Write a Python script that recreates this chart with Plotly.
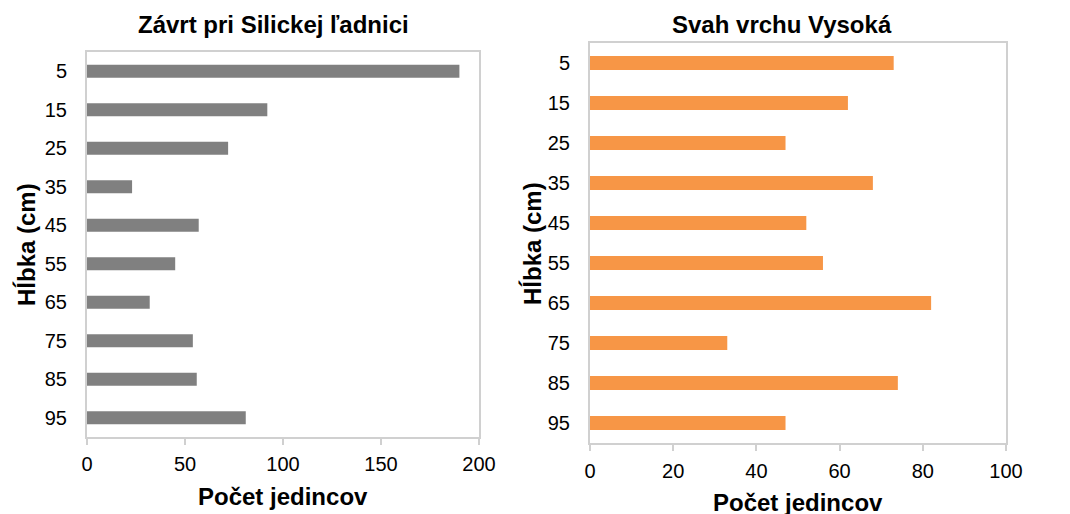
import plotly.graph_objects as go

depths = ["5", "15", "25", "35", "45", "55", "65", "75", "85", "95"]
silicka_values = [190, 92, 72, 23, 57, 45, 32, 54, 56, 81]
vysoka_values = [73, 62, 47, 68, 52, 56, 82, 33, 74, 47]

title_left = "Závrt pri Silickej ľadnici"
title_right = "Svah vrchu Vysoká"
x_title = "Počet jedincov"
y_title = "Hĺbka (cm)"

W, H = 1070, 514
OFF = 8  # page body margin
FONT = "Liberation Sans, Arial, sans-serif"
GRID = "#D0D0D0"

fig = go.Figure()
fig.add_trace(go.Bar(x=silicka_values, y=depths, orientation="h",
                     marker=dict(color="#808080", line=dict(width=0)),
                     width=0.34, xaxis="x", yaxis="y", showlegend=False))
fig.add_trace(go.Bar(x=vysoka_values, y=depths, orientation="h",
                     marker=dict(color="#F79646", line=dict(width=0)),
                     width=0.35, xaxis="x2", yaxis="y2", showlegend=False))

def px_x(p):
    return (p - OFF) / W

def px_y(p):
    return 1 - (p - OFF) / H

axis_common = dict(showgrid=False, zeroline=False, showline=True, linecolor=GRID,
                   linewidth=2, mirror=True, automargin=False,
                   tickfont=dict(family=FONT, size=20, color="#000000"))

fig.update_layout(
    width=W, height=H,
    margin=dict(l=0, r=0, t=0, b=0),
    paper_bgcolor="white", plot_bgcolor="white",
    xaxis=dict(domain=[px_x(87), px_x(479)], anchor="y", range=[0, 200],
               tickvals=[0, 50, 100, 150, 200], ticks="outside", ticklen=6,
               tickcolor=GRID, tickwidth=2, ticklabelstandoff=2, **axis_common),
    yaxis=dict(domain=[px_y(437), px_y(52)], anchor="x", type="category",
               categoryorder="array", categoryarray=depths, autorange="reversed",
               ticks="", ticklabelstandoff=14, **axis_common),
    xaxis2=dict(domain=[px_x(590), px_x(1006)], anchor="y2", range=[0, 100],
                tickvals=[0, 20, 40, 60, 80, 100], ticks="outside", ticklen=6,
                tickcolor=GRID, tickwidth=2, ticklabelstandoff=3, **axis_common),
    yaxis2=dict(domain=[px_y(443), px_y(43)], anchor="x2", type="category",
                categoryorder="array", categoryarray=depths, autorange="reversed",
                ticks="", ticklabelstandoff=14, **axis_common),
)

def ann(text, x, y, size, angle=0):
    fig.add_annotation(text=f"<b>{text}</b>", x=px_x(x), y=px_y(y), xref="paper", yref="paper",
                       showarrow=False, textangle=angle, xanchor="center", yanchor="middle",
                       font=dict(family=FONT, size=size, color="#000000"))

ann(title_left, 273.5, 25, 24)
ann(title_right, 781.7, 24, 24)
ann(x_title, 283, 496, 24)
ann(x_title, 798, 502, 24)
ann(y_title, 26, 245, 24, -90)
ann(y_title, 532, 244, 24, -90)

fig.write_html("out.html")
